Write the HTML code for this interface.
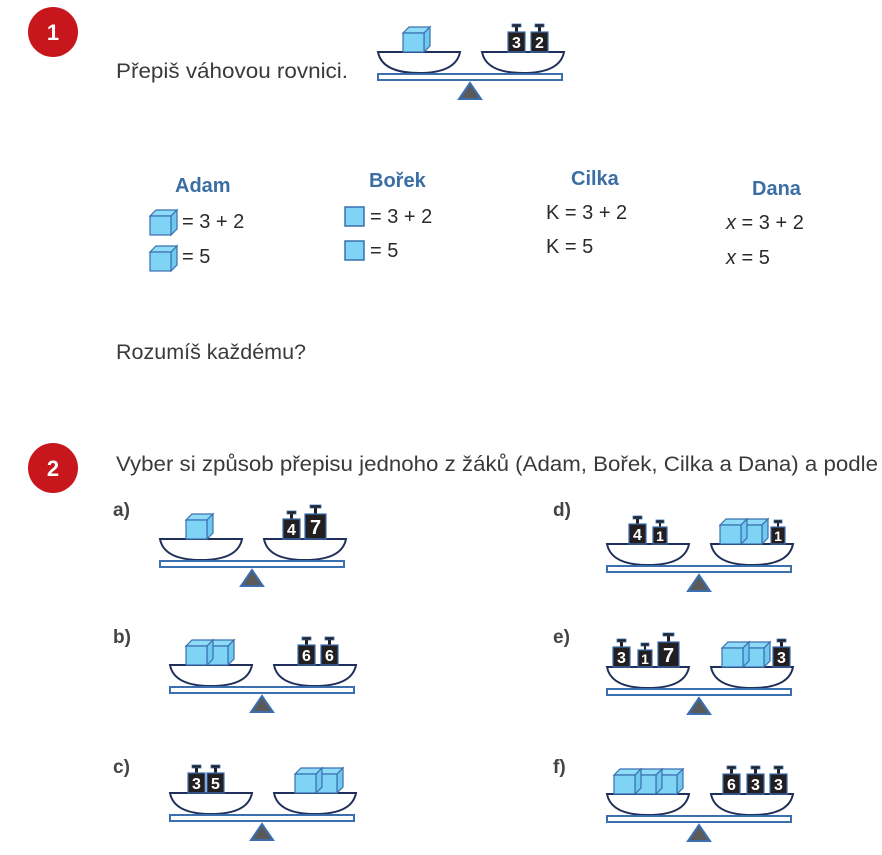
<!DOCTYPE html>
<html><head><meta charset="utf-8"><style>
body{margin:0;background:#fff;width:882px;height:855px;overflow:hidden}
svg{display:block}
</style></head><body>
<svg width="882" height="855" viewBox="0 0 882 855" font-family="Liberation Sans, sans-serif">
<defs>
<g id="scale">
<path d="M0,-21 H82 Q78,0 41,0 Q4,0 0,-21Z" fill="#fff" stroke="#1f2f5a" stroke-width="2"/>
<path d="M104,-21 H186 Q182,0 145,0 Q108,0 104,-21Z" fill="#fff" stroke="#1f2f5a" stroke-width="2"/>
<rect x="0" y="1" width="184" height="6" fill="#fff" stroke="#3a6fb0" stroke-width="2"/>
<polygon points="92,10 81,26 103,26" fill="#5a5a5a" stroke="#3a6fb0" stroke-width="2"/>
</g>
<g id="cube">
<polygon points="0,-19 6,-25 27,-25 21,-19" fill="#8fdcf8" stroke="#3a6fb0" stroke-width="1.2"/>
<polygon points="21,-19 27,-25 27,-6 21,0" fill="#6fc8ee" stroke="#3a6fb0" stroke-width="1.2"/>
<rect x="0" y="-19" width="21" height="19" fill="#7fd3f5" stroke="#3a6fb0" stroke-width="1.2"/>
</g>
<g id="wt">
<rect x="4" y="-28" width="9" height="3" fill="#231f20" stroke="#3a6fb0" stroke-width="0.8"/>
<rect x="7" y="-25" width="3" height="5" fill="#231f20"/>
<rect x="0" y="-20" width="17" height="20" fill="#231f20" stroke="#3a6fb0" stroke-width="1.2"/>
</g>
<g id="wtl">
<rect x="5" y="-34" width="11" height="3" fill="#231f20" stroke="#3a6fb0" stroke-width="0.8"/>
<rect x="9" y="-31" width="3" height="6" fill="#231f20"/>
<rect x="0" y="-25" width="21" height="25" fill="#231f20" stroke="#3a6fb0" stroke-width="1.2"/>
</g>
<g id="wts">
<rect x="3" y="-24" width="8" height="3" fill="#231f20" stroke="#3a6fb0" stroke-width="0.8"/>
<rect x="6" y="-21" width="2" height="4" fill="#231f20"/>
<rect x="0" y="-17" width="14" height="17" fill="#231f20" stroke="#3a6fb0" stroke-width="1.2"/>
</g>
<g id="sq"><rect x="0" y="0" width="19" height="19" fill="#7fd3f5" stroke="#3a6fb0" stroke-width="1.5"/></g>
</defs>

<circle cx="53" cy="32" r="25" fill="#c8161d"/>
<text x="53" y="40" fill="#fff" font-size="22" font-weight="bold" text-anchor="middle">1</text>
<circle cx="53" cy="468" r="25" fill="#c8161d"/>
<text x="53" y="476" fill="#fff" font-size="22" font-weight="bold" text-anchor="middle">2</text>

<g fill="#3a3a3a" font-size="21.5">
<text x="116" y="78" textLength="232" lengthAdjust="spacingAndGlyphs">Přepiš váhovou rovnici.</text>
<text x="116" y="359" textLength="190" lengthAdjust="spacingAndGlyphs">Rozumíš každému?</text>
<text x="116" y="471" textLength="762" lengthAdjust="spacingAndGlyphs">Vyber si způsob přepisu jednoho z žáků (Adam, Bořek, Cilka a Dana) a podle</text>
</g>

<g fill="#3a6ea5" font-size="20" font-weight="bold">
<text x="175" y="192">Adam</text>
<text x="369" y="187">Bořek</text>
<text x="571" y="185">Cilka</text>
<text x="752" y="195">Dana</text>
</g>
<g fill="#2a2a2a" font-size="20">
<text x="182" y="228">= 3 + 2</text>
<text x="182" y="263">= 5</text>
<text x="370" y="223">=  3 + 2</text>
<text x="370" y="257">= 5</text>
<text x="546" y="219">K = 3 + 2</text>
<text x="546" y="253">K = 5</text>
<text x="726" y="229"><tspan font-style="italic">x</tspan> = 3 + 2</text>
<text x="726" y="264"><tspan font-style="italic">x</tspan> = 5</text>
</g>
<use href="#cube" x="150" y="235"/>
<use href="#cube" x="150" y="271"/>
<use href="#sq" x="345" y="207"/>
<use href="#sq" x="345" y="241"/>

<g fill="#444" font-size="19" font-weight="bold">
<text x="113" y="516">a)</text>
<text x="113" y="643">b)</text>
<text x="113" y="773">c)</text>
<text x="553" y="516">d)</text>
<text x="553" y="643">e)</text>
<text x="553" y="773">f)</text>
</g>

<!-- scale 1 -->
<g transform="translate(378,73)">
<use href="#scale"/>
<use href="#cube" x="25" y="-21"/>
<use href="#wt" x="130" y="-21"/>
<use href="#wt" x="153" y="-21"/>
<g fill="#fff" font-size="16" font-weight="bold" text-anchor="middle">
<text x="138.5" y="-25">3</text><text x="161.5" y="-25">2</text></g>
</g>
<!-- a -->
<g transform="translate(160,560)">
<use href="#scale"/>
<use href="#cube" x="26" y="-21"/>
<use href="#wt" x="123" y="-21"/>
<use href="#wtl" x="145" y="-21"/>
<g fill="#fff" font-size="16" font-weight="bold" text-anchor="middle">
<text x="131.5" y="-25">4</text><text x="155.5" y="-26" font-size="20">7</text></g>
</g>
<!-- b -->
<g transform="translate(170,686)">
<use href="#scale"/>
<use href="#cube" x="37" y="-21"/><use href="#cube" x="16" y="-21"/>
<use href="#wt" x="128" y="-21"/>
<use href="#wt" x="151" y="-21"/>
<g fill="#fff" font-size="16" font-weight="bold" text-anchor="middle">
<text x="136.5" y="-25">6</text><text x="159.5" y="-25">6</text></g>
</g>
<!-- c -->
<g transform="translate(170,814)">
<use href="#scale"/>
<use href="#wt" x="18" y="-21"/>
<use href="#wt" x="37" y="-21"/>
<use href="#cube" x="146" y="-21"/><use href="#cube" x="125" y="-21"/>
<g fill="#fff" font-size="16" font-weight="bold" text-anchor="middle">
<text x="26.5" y="-25">3</text><text x="45.5" y="-25">5</text></g>
</g>
<!-- d -->
<g transform="translate(607,565)">
<use href="#scale"/>
<use href="#wt" x="22" y="-21"/>
<use href="#wts" x="46" y="-21"/>
<use href="#cube" x="134" y="-21"/><use href="#cube" x="113" y="-21"/>
<use href="#wts" x="164" y="-21"/>
<g fill="#fff" font-size="16" font-weight="bold" text-anchor="middle">
<text x="30.5" y="-25">4</text><text x="53" y="-24" font-size="14">1</text><text x="171" y="-24" font-size="14">1</text></g>
</g>
<!-- e -->
<g transform="translate(607,688)">
<use href="#scale"/>
<use href="#wt" x="6" y="-21"/>
<use href="#wts" x="31" y="-21"/>
<use href="#wtl" x="51" y="-21"/>
<use href="#cube" x="136" y="-21"/><use href="#cube" x="115" y="-21"/>
<use href="#wt" x="166" y="-21"/>
<g fill="#fff" font-size="16" font-weight="bold" text-anchor="middle">
<text x="14.5" y="-25">3</text><text x="38" y="-24" font-size="14">1</text><text x="61.5" y="-26" font-size="20">7</text><text x="174.5" y="-25">3</text></g>
</g>
<!-- f -->
<g transform="translate(607,815)">
<use href="#scale"/>
<use href="#cube" x="49" y="-21"/><use href="#cube" x="28" y="-21"/><use href="#cube" x="7" y="-21"/>
<use href="#wt" x="116" y="-21"/>
<use href="#wt" x="140" y="-21"/>
<use href="#wt" x="163" y="-21"/>
<g fill="#fff" font-size="16" font-weight="bold" text-anchor="middle">
<text x="124.5" y="-25">6</text><text x="148.5" y="-25">3</text><text x="171.5" y="-25">3</text></g>
</g>
</svg>
</body></html>
